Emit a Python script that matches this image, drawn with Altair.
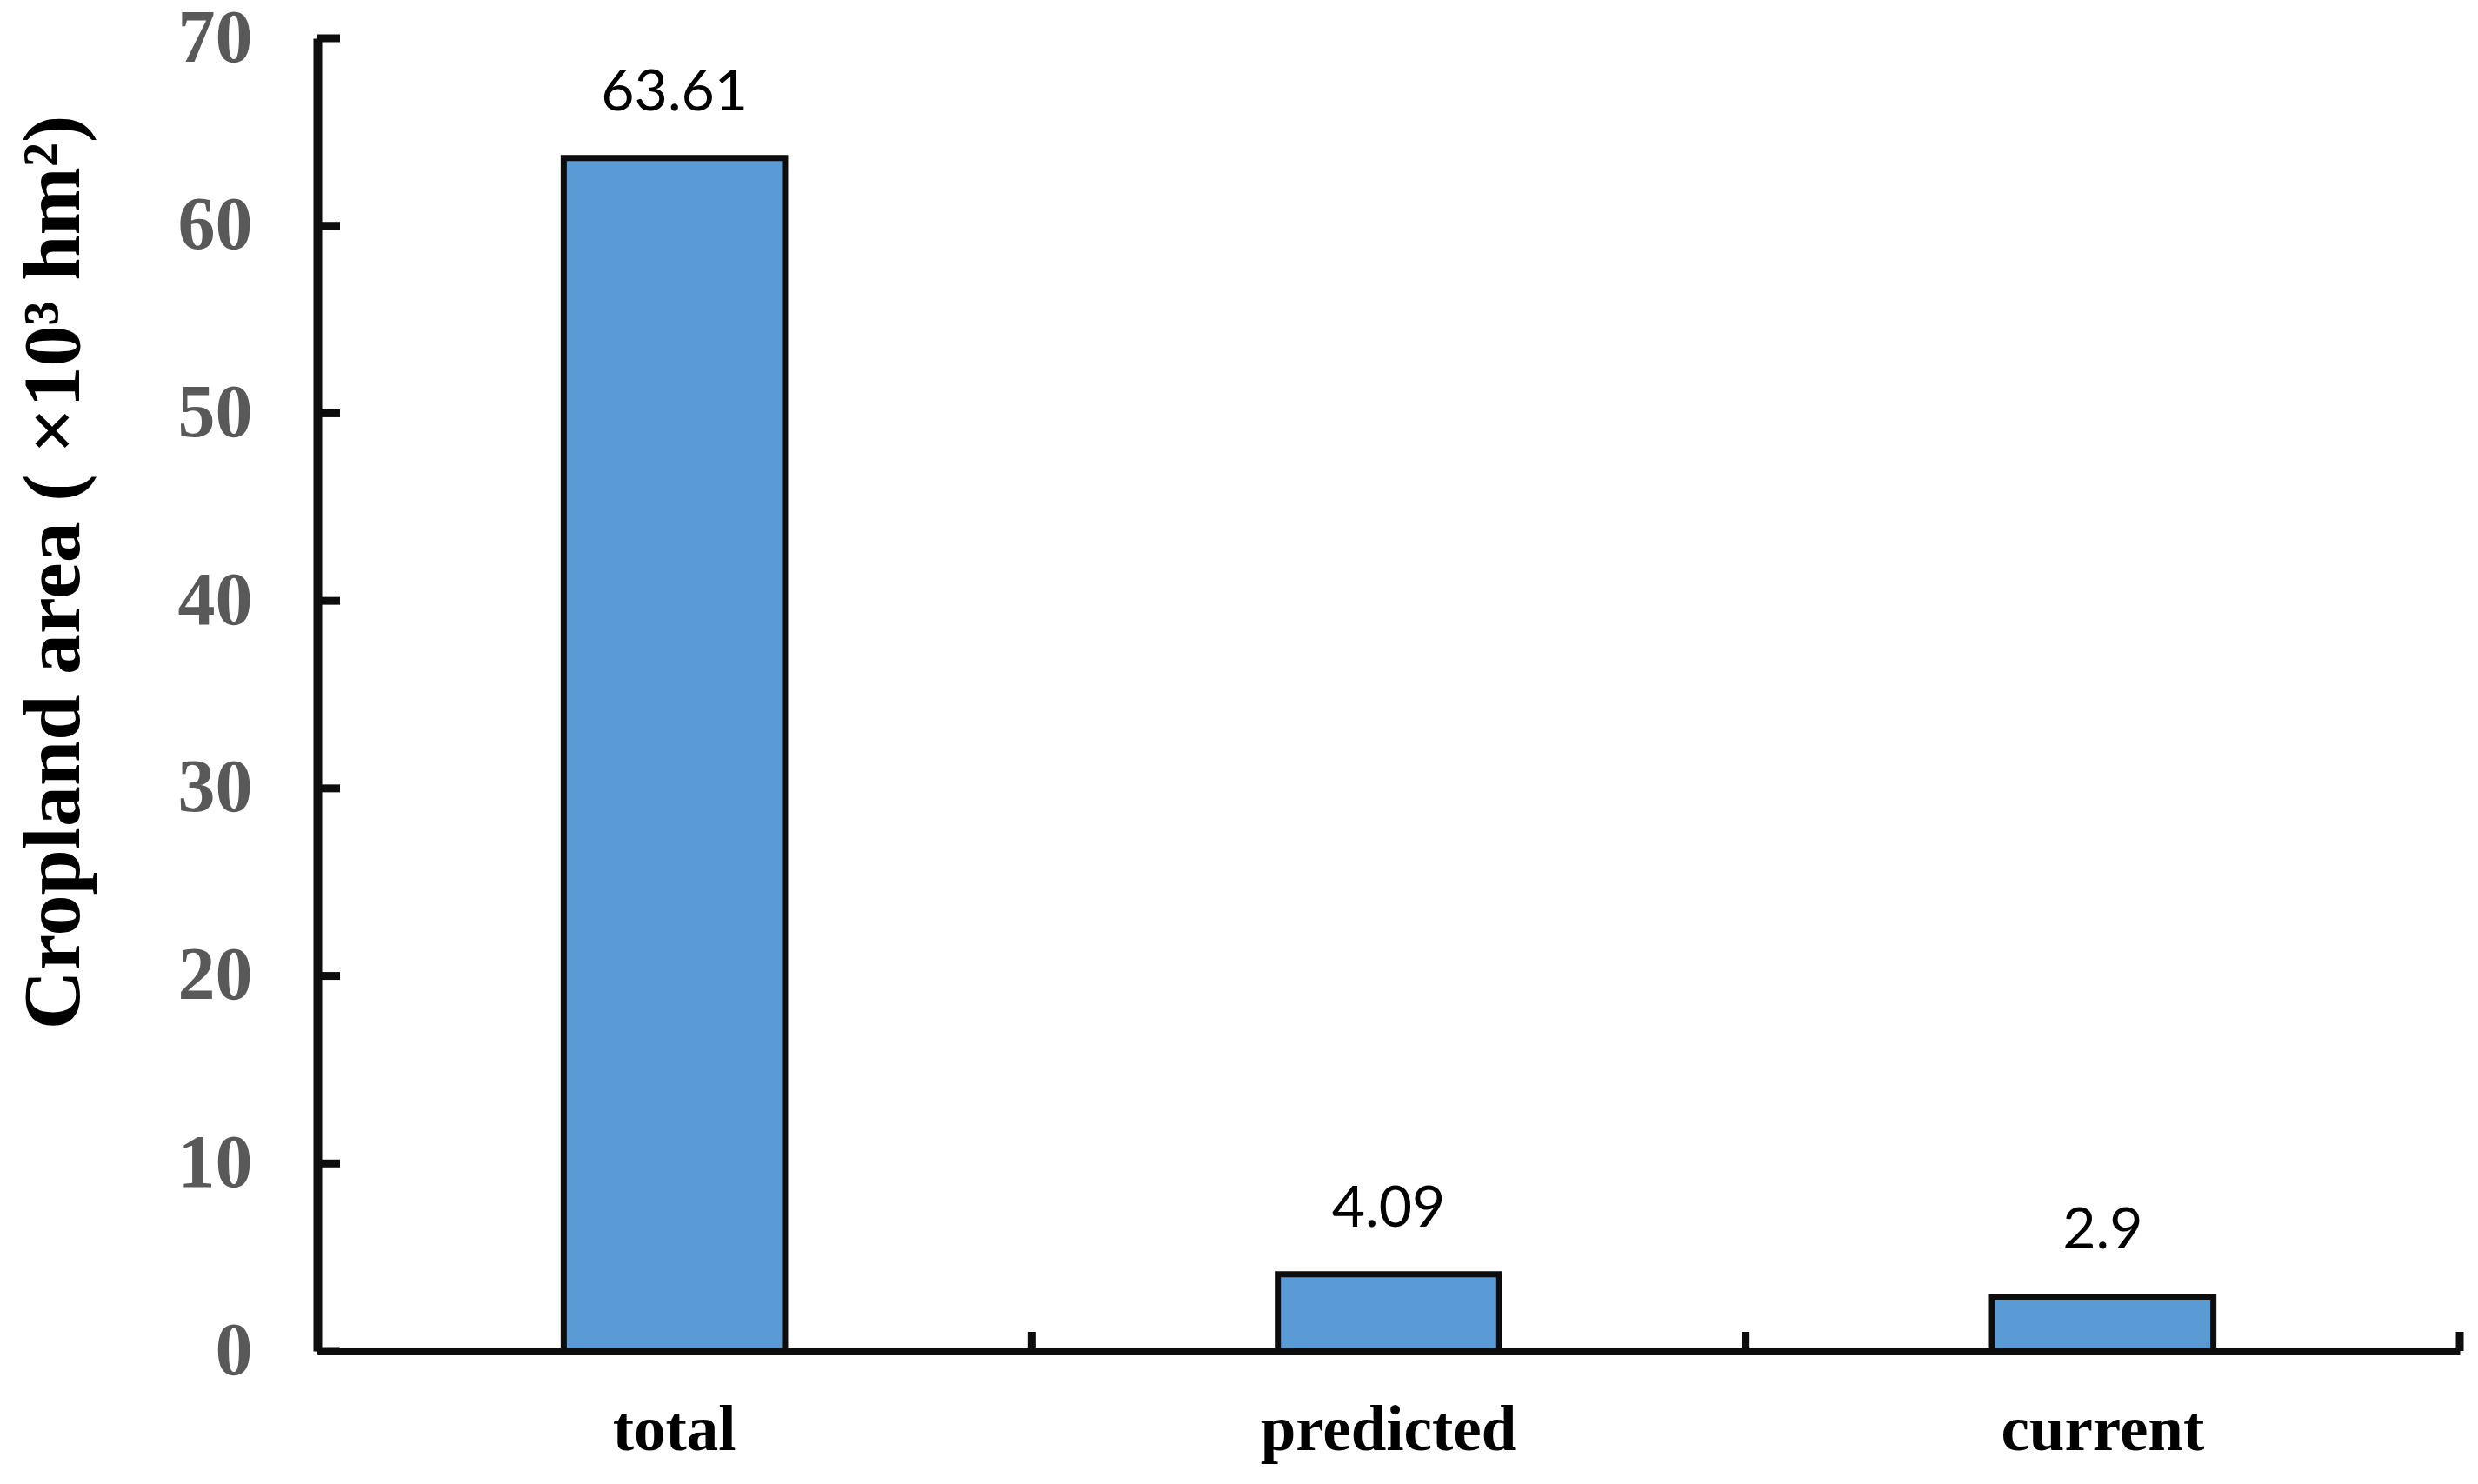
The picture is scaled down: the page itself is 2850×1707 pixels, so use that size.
import altair as alt
import pandas as pd

categories = ["total", "predicted", "current"]
values = [63.61, 4.09, 2.9]
value_labels = ["63.61", "4.09", "2.9"]
y_ticks = [0, 10, 20, 30, 40, 50, 60, 70]

df = pd.DataFrame({"cat": categories, "val": values, "lab": value_labels})
ticks_df = pd.DataFrame({"t": y_ticks})

W, H = 2464, 1510
AX = "#0D0D0D"

x_scale = alt.Scale(domain=categories, paddingInner=0, paddingOuter=0)
y_scale = alt.Scale(domain=[0, 70], nice=False, zero=True)

x_axis = alt.Axis(
    title=None, labelAngle=0, ticks=False, tickSize=0,
    domainColor=AX, domainWidth=9, labelLimit=0,
    labelFont="Liberation Serif", labelFontWeight="bold", labelFontSize=73,
    labelColor="black", labelPadding=113, labelBaseline="alphabetic",
    grid=False,
)
y_axis = alt.Axis(
    title="Cropland area ( ×10³ hm²)", values=y_ticks, ticks=False, tickSize=0,
    domainColor=AX, domainWidth=10, grid=False, labelLimit=0,
    labelFont="Liberation Serif", labelFontWeight="bold", labelFontSize=86,
    labelColor="#595959", labelPadding=75, labelBaseline="middle",
    titleFont="Liberation Serif", titleFontWeight="bold", titleFontSize=94,
    titleColor="black", titleAngle=270, titleAlign="center",
    titleBaseline="alphabetic", titleX=-275, titleY=614, titleLimit=0,
)

bars = alt.Chart(df).mark_bar(
    width=alt.RelativeBandSize(band=0.31), fill="#5B9BD5", stroke=AX, strokeWidth=7
).encode(
    x=alt.X("cat:N", scale=x_scale, sort=categories, axis=x_axis),
    y=alt.Y("val:Q", scale=y_scale, axis=y_axis),
)

labels = alt.Chart(df).mark_text(
    font="Lato", fontSize=66, baseline="alphabetic", dy=-55, color="black"
).encode(
    x=alt.X("cat:N", scale=x_scale, sort=categories, axis=x_axis),
    y=alt.Y("val:Q", scale=y_scale, axis=y_axis),
    text="lab:N",
)

yticks = alt.Chart(ticks_df).mark_rule(color=AX, strokeWidth=9).encode(
    y=alt.Y("t:Q", scale=y_scale, axis=y_axis),
    x=alt.value(0),
    x2=alt.value(26),
)

xticks = alt.Chart(df).mark_rule(color=AX, strokeWidth=9).encode(
    x=alt.X("cat:N", scale=x_scale, sort=categories, axis=x_axis, bandPosition=1),
    y=alt.value(H),
    y2=alt.value(H - 22),
)

chart = alt.layer(bars, labels, yticks, xticks).properties(
    width=W, height=H,
    autosize=alt.AutoSizeParams(type="none"),
    padding={"left": 357, "top": 36, "right": 10, "bottom": 140},
    background="white",
).configure_view(stroke=None)

chart.save("out.html", embed_options={"renderer": "svg", "actions": False})
